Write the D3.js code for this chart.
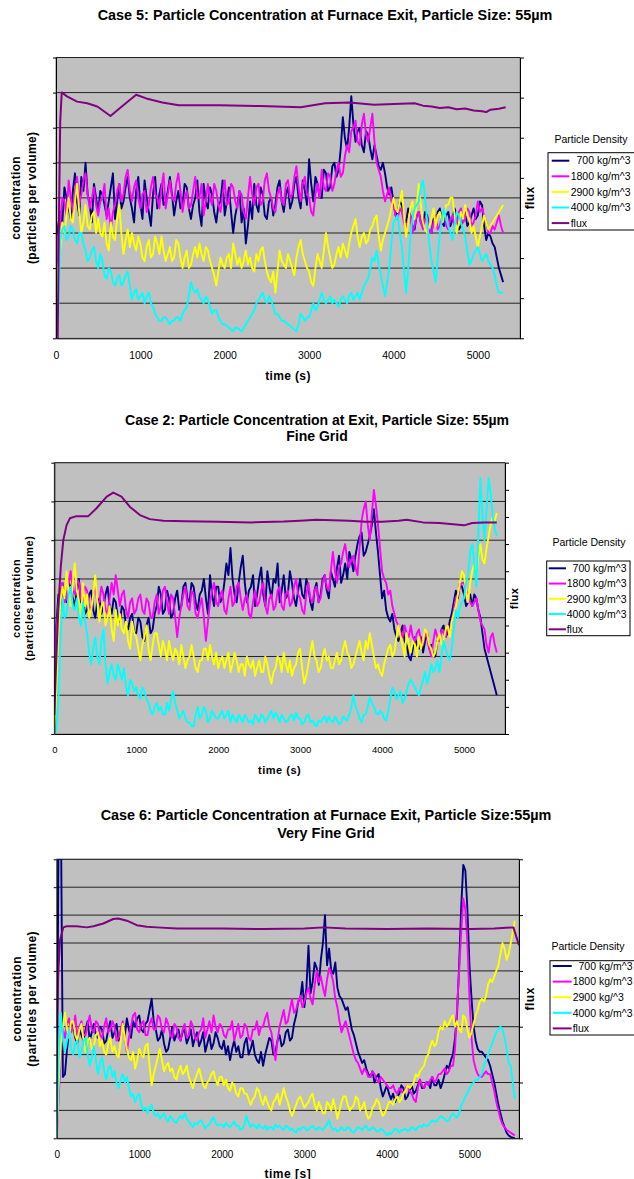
<!DOCTYPE html>
<html>
<head>
<meta charset="utf-8">
<script src="https://cdn.jsdelivr.net/npm/d3@7"></script>
<style>
  body { margin: 0; background: #fff; }
  svg { display: block; font-family: "Liberation Sans", Arial, sans-serif; }
</style>
</head>
<body>
<svg id="page" width="634" height="1179"></svg>
<script>
//sample spacing of the particle series (seconds)
const STEP = 25;

const LEGEND_NAMES = ['\u2007700 kg/m^3', '1800 kg/m^3', '2900 kg/m^3', '4000 kg/m^3', 'flux'];
const LEGEND_NAMES_CASE6 = ['\u2007700 kg/m^3', '1800 kg/m^3', '2900 kg/^3', '4000 kg/m^3', 'flux'];
const X_TICKS = [0, 1000, 2000, 3000, 4000, 5000];

//---------------- Case 5 (samples every STEP s from 0, one row = 500 s) ----------------
const case5_700 = [0,3.2,3.6,3.3,4.3,4.0,3.7,3.4,4.2,4.7,3.9,3.5,4.6,4.2,5.0,4.1,3.8,3.3,4.4,4.0,
  3.6,4.2,4.1,3.8,3.5,3.9,4.3,4.7,3.4,3.9,4.4,3.7,3.9,4.3,4.6,4.0,3.7,3.3,4.2,4.6,
  3.8,3.4,4.5,4.0,3.6,3.2,4.1,4.6,3.7,4.1,4.4,3.8,3.9,4.2,4.6,4.1,3.5,3.9,4.2,3.7,
  3.8,4.4,4.3,3.7,3.4,3.8,4.0,4.5,3.6,3.2,4.4,3.9,3.7,4.3,4.1,3.6,3.3,3.8,3.9,4.5,
  3.5,3.9,4.3,3.6,3.0,3.5,3.8,4.2,3.3,3.7,2.7,3.2,3.9,3.4,4.4,3.8,3.6,4.3,4.1,3.5,
  3.4,3.9,4.0,3.5,3.8,4.3,4.5,3.9,3.6,4.1,4.3,3.7,3.9,4.4,4.6,4.0,3.7,4.5,4.2,3.8,
  5.1,4.4,3.9,4.6,4.4,4.0,4.0,4.8,4.7,4.2,4.3,4.9,5.0,4.6,4.8,5.4,6.3,5.7,5.4,6.0,
  6.9,6.1,5.6,5.9,6.0,5.5,5.3,5.9,5.8,5.4,5.1,5.5,5.2,4.9,4.8,5.0,4.7,4.3,4.1,4.3,
  3.9,3.5,3.6,3.9,3.8,3.4,3.3,3.7,3.5,3.2,3.1,3.5,3.6,3.3,3.2,3.6,3.5,3.1,3.0,3.4,
  3.3,3.6,3.7,3.3,3.2,3.5,3.6,3.2,3.4,3.7,3.5,3.1,3.2,3.4,3.6,3.2,3.3,3.5,3.7,3.4,
  3.5,3.9,3.8,3.2,2.8,3.0,2.9,2.7,2.6,2.3,2.0,1.8,1.6];
const case5_1800 = [0,2.9,3.3,4.0,3.9,3.5,4.5,4.0,3.6,4.2,4.6,3.8,4.1,4.5,4.7,4.1,3.7,4.0,4.3,3.8,
  3.5,3.9,4.0,4.4,3.4,3.7,3.1,3.6,3.8,4.2,4.4,3.9,4.1,4.6,4.8,4.2,3.9,4.3,4.5,4.0,
  3.7,4.1,4.2,3.6,3.8,4.3,4.6,4.1,4.0,3.7,4.3,4.7,3.7,4.1,4.5,4.0,3.9,4.4,4.7,4.2,
  3.6,4.0,4.2,3.7,3.8,4.2,4.6,4.0,4.0,4.4,3.5,3.9,4.4,4.0,3.8,4.4,4.2,3.8,3.6,4.1,
  4.5,3.8,3.9,4.4,4.3,3.9,3.7,4.2,4.1,3.6,3.4,4.0,4.6,4.1,3.8,4.3,4.4,3.8,3.9,4.5,
  4.7,4.2,4.0,3.7,3.6,4.1,4.3,3.9,3.8,4.4,4.5,4.0,4.1,4.6,4.9,4.3,3.9,4.4,4.6,4.1,
  4.0,3.6,3.5,4.1,4.4,4.0,4.8,4.3,4.2,4.7,4.6,4.2,4.4,4.8,5.0,4.6,4.7,5.2,5.5,5.3,
  5.9,6.0,6.2,5.6,5.5,6.1,6.4,5.8,5.6,6.0,6.4,5.6,5.0,4.8,4.6,4.2,3.9,4.1,4.3,3.9,
  3.8,3.5,3.4,3.7,3.6,3.3,3.1,3.4,3.5,3.0,3.2,3.5,3.6,3.3,3.1,3.4,3.4,3.1,3.0,3.3,
  3.5,3.1,3.2,3.5,3.6,3.2,3.1,3.4,3.5,3.2,3.3,3.6,3.7,3.3,3.4,3.7,3.6,3.2,3.3,3.5,
  3.9,3.6,3.7,3.5,3.3,3.0,3.0,3.2,3.1,3.3,3.5,3.2,3.0];
const case5_2900 = [0,2.0,2.5,3.3,3.0,3.5,4.0,3.4,3.3,3.9,4.4,3.6,3.0,3.3,3.8,3.2,3.1,3.5,3.6,3.0,
  3.4,3.0,2.9,3.3,2.7,2.5,3.3,2.9,2.8,3.4,3.8,3.0,2.4,2.8,3.1,2.6,3.0,2.7,2.5,2.9,
  2.7,2.3,2.2,2.6,2.8,2.3,2.4,2.9,2.7,2.4,2.9,2.5,2.2,2.4,2.6,2.2,2.3,2.8,2.7,2.3,
  2.0,2.3,2.5,2.0,2.1,2.4,2.6,2.3,2.7,2.4,2.2,2.6,2.5,2.2,2.0,1.8,1.5,1.9,2.3,2.1,
  2.0,2.3,2.4,2.0,2.7,2.4,2.1,2.3,2.0,2.2,2.5,2.1,2.3,2.0,1.9,2.4,2.2,2.5,2.6,2.2,
  1.9,1.7,1.6,1.9,1.3,1.9,2.5,2.2,2.1,2.0,2.4,2.2,2.0,1.8,2.3,2.6,2.8,2.4,2.2,2.0,
  1.9,1.6,1.5,2.0,2.4,2.2,2.0,2.5,3.0,2.6,2.3,2.0,2.1,2.4,2.6,2.3,2.7,2.5,2.3,2.7,
  3.0,3.2,3.4,2.9,2.6,2.9,3.0,2.7,2.8,3.1,3.2,3.4,3.5,2.9,2.5,2.8,3.0,3.2,3.4,3.7,
  4.0,3.7,3.6,3.9,4.2,3.5,2.9,3.3,3.7,3.9,3.4,3.8,4.4,3.8,3.3,3.1,3.0,3.2,3.4,3.7,
  3.2,3.5,3.6,3.3,3.5,3.8,3.8,4.0,4.0,3.5,3.0,3.3,3.6,3.4,3.8,3.5,3.4,3.0,3.2,2.9,
  2.6,2.9,3.2,3.5,3.3,3.1,3.2,3.3,3.4,3.5,3.6,3.7,3.8];
const case5_4000 = [0,0.5,2.8,3.1,3.2,2.8,2.9,3.2,3.1,2.8,2.7,3.0,3.0,2.7,2.5,2.2,2.3,2.5,2.6,2.2,
  2.0,2.4,2.2,1.8,1.7,2.0,1.9,1.6,1.5,1.7,1.8,1.5,1.6,1.8,1.9,1.5,1.1,1.3,1.4,1.1,
  1.2,1.3,1.0,1.2,1.3,1.0,0.9,0.7,0.6,0.5,0.5,0.6,0.6,0.5,0.4,0.5,0.5,0.6,0.6,0.5,
  0.7,0.8,0.9,1.2,1.6,1.4,1.3,1.4,1.2,1.1,1.0,1.2,1.1,0.9,0.7,0.8,0.8,0.6,0.5,0.4,
  0.4,0.35,0.3,0.25,0.2,0.3,0.3,0.25,0.2,0.3,0.4,0.5,0.6,0.7,0.8,1.0,1.1,1.2,1.3,1.1,
  1.0,1.2,1.1,0.9,0.7,0.7,0.6,0.5,0.5,0.45,0.4,0.35,0.3,0.25,0.2,0.4,0.7,0.6,0.5,0.6,
  0.6,0.8,1.0,0.8,0.9,1.1,1.3,1.1,1.0,1.1,1.2,1.0,1.1,1.0,0.9,1.1,1.2,1.1,1.0,1.2,
  1.3,1.1,1.2,1.3,1.1,1.3,1.5,1.6,1.7,2.0,2.3,2.2,2.5,2.1,1.8,1.5,1.2,1.6,2.0,2.7,
  3.3,3.4,3.5,3.0,2.6,1.9,1.3,2.0,2.9,3.4,3.7,3.8,3.9,4.3,4.5,4.0,3.3,2.7,2.2,1.9,
  1.6,2.3,3.0,3.4,3.7,3.4,3.2,3.0,2.8,3.2,3.6,3.5,3.3,3.1,2.9,2.5,2.1,2.2,2.4,2.5,
  2.6,2.4,2.2,2.3,2.4,2.2,2.1,2.0,1.8,1.5,1.3,1.3,1.3];
const case5_fluxTime  = [20,35,50,68,130,250,370,490,646,780,950,1070,1260,1455,1940,2420,2900,3190,3480,3770,4250,4350,4450,4550,4650,4750,4850,4950,5050,5100,5150,5250,5330];
const case5_fluxValue = [0,3.0,5.4,6.13,6.03,5.90,5.86,5.78,5.54,5.78,6.07,5.98,5.88,5.81,5.81,5.79,5.76,5.86,5.88,5.82,5.86,5.80,5.78,5.74,5.76,5.71,5.73,5.68,5.66,5.64,5.70,5.72,5.76];

//---------------- Case 2 ----------------
const case2_700 = [0,2.8,3.6,3.2,3.9,3.6,3.4,3.9,3.8,3.5,3.3,3.7,4.0,3.4,3.5,3.1,3.2,3.6,3.7,3.2,
  3.0,3.4,3.5,3.1,3.3,3.6,3.8,3.3,3.1,3.5,3.4,3.0,2.9,3.3,3.2,2.8,2.7,3.0,3.1,2.6,
  2.6,3.0,2.9,2.5,2.4,2.8,3.0,2.6,2.7,3.1,3.3,3.8,3.6,3.1,3.2,3.7,3.5,3.0,3.1,3.5,
  3.7,3.2,3.3,3.8,3.9,3.5,3.4,3.9,3.8,3.4,3.2,3.6,3.7,4.0,3.5,3.1,4.1,3.6,3.3,3.8,
  3.8,3.4,3.5,3.9,4.4,4.1,4.8,4.0,3.6,3.4,3.9,4.3,4.6,3.9,3.4,3.7,3.8,4.1,3.3,3.6,
  4.0,4.3,3.6,3.3,4.2,3.8,3.5,4.0,3.9,4.4,3.4,3.7,4.1,3.5,3.6,4.2,3.9,3.5,3.3,3.7,
  4.0,3.6,3.5,4.0,3.8,3.4,3.2,3.7,3.9,3.4,3.6,4.0,4.1,3.7,3.5,4.2,4.0,3.8,4.3,4.6,
  3.9,4.1,4.4,4.0,4.7,4.5,4.2,4.6,4.9,5.1,5.2,4.6,4.7,4.9,5.1,5.4,5.8,5.2,4.7,4.1,
  3.5,3.7,3.2,3.0,2.9,3.1,2.7,2.5,2.4,2.6,2.8,2.4,2.3,2.0,1.9,2.2,2.5,2.3,2.2,2.5,
  2.1,2.4,2.6,2.2,2.3,2.0,2.0,2.4,2.5,2.7,2.8,2.5,2.6,2.9,3.1,3.4,3.7,3.5,3.9,3.8,
  3.6,3.3,3.4,3.6,3.3,3.6,3.5,3.2,3.0,2.6,2.2,2.0,1.8,1.6,1.4,1.2,1.0];
const case2_1800 = [0,2.6,3.3,3.7,3.9,3.4,3.5,3.9,4.2,3.7,3.6,4.0,3.9,3.5,3.3,3.8,3.7,3.3,3.2,3.6,
  3.8,3.4,3.4,3.8,3.6,3.2,3.1,3.5,3.9,3.6,4.1,3.7,3.3,3.6,3.7,3.2,3.0,3.4,3.5,3.1,
  3.2,3.5,3.6,3.2,3.1,3.5,3.4,3.0,3.0,3.4,3.6,3.1,3.3,3.7,3.8,3.4,3.1,3.6,3.5,3.0,
  2.5,3.0,3.3,3.6,3.8,3.3,3.2,3.7,3.6,3.1,3.0,3.3,3.5,3.0,2.4,2.9,3.4,3.7,3.9,3.4,
  3.3,3.6,3.7,3.2,3.1,3.5,3.8,3.3,3.4,3.8,3.9,3.5,3.2,3.5,3.6,3.1,3.0,3.4,3.7,3.3,
  3.4,3.7,3.9,3.3,3.1,3.5,3.6,3.2,3.3,3.7,3.8,3.3,3.2,3.6,3.7,3.3,3.4,3.8,4.0,3.6,
  3.5,3.2,3.1,3.6,3.9,3.5,3.4,3.7,3.8,3.4,3.5,3.9,4.1,3.8,3.7,4.2,4.7,4.2,3.9,4.3,
  4.4,4.7,4.9,4.5,4.3,4.5,4.6,4.3,4.1,4.8,5.5,5.8,6.0,5.4,5.0,5.7,6.3,5.9,5.4,4.8,
  4.2,4.0,3.9,3.6,3.7,3.3,3.1,2.9,2.8,2.6,2.5,2.8,2.6,2.5,2.8,2.5,2.4,2.6,2.7,2.4,
  2.3,2.6,2.5,2.2,2.0,2.4,2.7,2.5,2.4,2.7,2.6,2.5,2.8,2.6,2.9,3.2,3.5,3.6,3.8,3.9,
  3.9,3.7,3.6,3.4,3.3,3.4,3.5,3.2,2.9,2.8,2.7,2.3,2.1,2.5,2.6,2.3,2.1];
const case2_2900 = [0,1.2,2.6,3.4,3.8,3.5,4.2,3.6,3.3,3.9,4.4,3.7,3.4,3.0,3.9,3.3,3.6,3.0,3.2,3.6,
  4.1,3.4,2.9,3.3,3.4,2.8,3.0,3.3,2.7,2.4,3.2,2.8,3.1,2.7,2.6,2.9,2.4,2.2,2.9,2.6,
  2.5,2.2,1.9,2.3,2.5,2.8,2.2,1.9,2.3,2.6,2.6,2.3,2.0,2.4,2.2,1.9,2.4,2.1,1.9,2.2,
  2.1,1.8,2.3,2.0,1.7,1.9,2.0,2.3,2.0,1.7,1.6,1.9,1.9,2.2,2.2,1.9,2.3,2.0,1.8,2.1,
  1.7,1.9,2.0,1.7,1.9,2.1,1.6,1.8,2.1,1.9,1.6,1.8,1.8,1.5,2.0,1.8,1.7,1.9,1.5,1.7,
  1.9,1.6,1.6,2.0,1.8,1.5,1.3,1.6,1.7,2.0,1.9,1.6,2.1,1.8,1.6,1.9,1.5,1.7,1.8,2.1,
  2.2,1.7,1.3,1.5,1.8,2.1,2.4,2.0,1.9,1.6,1.7,2.0,2.2,1.9,2.0,1.7,1.7,1.9,2.1,1.8,
  1.9,2.2,2.4,2.1,2.0,1.7,1.8,2.0,2.2,2.4,2.1,1.9,2.4,2.2,2.6,2.3,2.0,1.7,1.8,1.6,
  1.5,1.8,2.0,2.2,2.3,2.0,2.1,2.5,2.8,2.5,2.3,2.0,2.6,2.3,2.1,2.4,2.3,2.0,2.5,2.2,
  2.4,2.7,2.6,2.3,2.2,2.0,2.1,2.4,2.6,2.3,2.4,2.7,2.8,2.5,2.9,3.1,3.3,3.6,3.9,4.2,
  4.1,3.7,3.4,3.9,4.2,4.4,4.0,4.6,4.9,4.5,4.4,4.8,5.1,5.4,5.6,5.5,5.7];
const case2_4000 = [0,0.1,0.9,2.4,3.5,3.0,3.1,3.6,3.8,3.3,3.2,3.5,3.0,2.8,3.4,2.9,2.6,2.1,1.8,2.2,
  2.5,2.0,1.8,2.4,2.7,1.8,1.3,1.6,1.8,1.5,1.4,1.8,1.6,1.4,1.7,1.2,1.0,1.4,1.3,1.1,
  1.2,1.0,0.9,1.2,1.1,0.9,0.8,0.6,0.5,0.7,0.8,0.6,0.7,0.5,0.5,0.8,0.6,0.9,1.1,0.8,
  0.6,0.4,0.5,0.6,0.4,0.3,0.3,0.2,0.2,0.5,0.7,0.4,0.5,0.7,0.6,0.3,0.4,0.6,0.5,0.4,
  0.4,0.5,0.6,0.4,0.5,0.6,0.3,0.5,0.4,0.3,0.5,0.4,0.3,0.5,0.4,0.3,0.35,0.25,0.5,0.4,
  0.3,0.5,0.45,0.3,0.4,0.5,0.6,0.4,0.55,0.45,0.3,0.5,0.4,0.3,0.35,0.45,0.5,0.35,0.55,0.4,
  0.4,0.25,0.3,0.45,0.5,0.3,0.35,0.25,0.2,0.35,0.3,0.4,0.45,0.3,0.45,0.35,0.3,0.45,0.35,0.25,
  0.3,0.45,0.4,0.35,0.5,0.7,1.0,0.7,0.6,0.4,0.3,0.5,0.5,0.7,0.95,0.8,0.7,0.55,0.5,0.6,
  0.55,0.4,0.35,0.6,0.9,1.2,1.1,0.9,1.0,1.1,0.8,0.9,1.1,1.3,1.4,1.3,1.2,1.1,1.0,1.2,
  1.4,1.6,1.3,1.5,1.8,1.6,1.7,1.9,1.6,2.0,2.4,2.2,2.0,1.9,2.2,2.7,3.2,3.0,3.3,3.4,
  3.5,3.9,4.1,4.7,4.9,4.4,3.8,5.2,6.6,5.6,5.0,5.8,6.6,6.2,5.6,5.3,5.1];
const case2_fluxTime  = [0,25,50,80,110,150,190,270,415,515,640,720,820,920,1045,1165,1330,1600,2000,2400,2800,3000,3200,3400,3600,3800,4000,4200,4300,4500,4700,4900,5000,5100,5250,5400];
const case2_fluxValue = [0.7,2.8,4.7,6.2,7.15,7.7,7.95,8.03,8.03,8.32,8.75,8.9,8.75,8.38,8.07,7.92,7.86,7.84,7.82,7.8,7.83,7.86,7.9,7.88,7.86,7.82,7.82,7.86,7.9,7.8,7.78,7.72,7.69,7.78,7.8,7.8];

//---------------- Case 6 ----------------
const case6_700 = [0,12,12,2.2,2.3,3.2,3.8,4.1,4.0,3.6,3.4,3.9,3.7,3.5,3.9,4.2,3.5,3.8,4.1,3.7,
  3.6,4.0,3.9,3.4,3.5,3.9,4.2,3.6,3.8,4.1,3.5,3.8,4.1,3.7,4.3,3.9,3.6,4.2,4.0,4.3,
  4.4,3.9,3.8,4.1,4.2,4.6,5.0,4.2,3.9,3.5,3.6,3.9,3.4,3.1,3.2,3.6,4.0,3.5,3.7,3.9,
  3.5,3.8,3.9,3.4,3.6,3.9,3.3,3.6,3.8,3.3,3.5,3.8,3.1,3.4,3.7,3.2,3.4,3.8,3.6,3.3,
  3.2,3.5,3.0,3.3,2.8,3.2,3.5,3.1,3.3,2.9,2.9,3.4,3.6,3.0,3.2,3.5,3.0,2.8,2.7,3.1,
  2.6,3.0,3.3,3.6,3.5,3.0,3.1,3.5,3.7,3.3,3.4,3.8,3.9,3.5,3.6,4.1,4.4,4.9,5.0,5.6,
  4.7,5.4,6.9,5.2,5.6,6.3,6.1,5.5,6.4,7.0,8.0,6.2,6.8,6.0,5.9,6.3,5.4,5.1,5.0,4.8,
  4.6,4.7,4.3,3.9,3.7,3.4,3.1,2.9,2.7,2.8,2.5,2.3,2.2,2.4,2.0,2.2,2.3,1.8,1.5,1.7,
  1.9,1.6,1.4,1.6,1.3,1.5,1.6,1.9,1.8,1.4,1.5,1.7,1.9,1.6,1.7,1.9,2.1,1.8,1.8,2.0,
  2.0,1.8,2.2,1.9,1.9,2.1,1.8,2.0,2.3,2.6,2.5,2.8,3.0,3.6,4.5,6.2,8.3,9.8,9.6,8.2,
  6.2,5.0,4.0,3.5,3.2,3.1,3.1,3.0,2.9,2.8,2.6,2.3,2.0,1.6,1.2,0.9,0.6,0.4,0.2,0.1,
  0.05,0.02,0.0];
const case6_1800 = [0,1.5,3.0,3.9,3.6,4.1,4.3,3.8,4.0,4.4,3.6,4.0,4.2,3.7,3.7,4.1,4.4,3.9,3.8,4.2,
  4.1,3.7,3.6,4.0,4.3,3.8,3.9,4.2,4.0,3.5,3.6,3.9,4.2,3.6,3.1,3.6,4.0,4.4,4.5,3.9,
  3.8,4.1,4.2,3.7,3.7,4.1,4.3,3.9,3.9,4.4,4.3,3.9,3.8,4.3,4.1,3.7,3.6,4.1,4.0,3.6,
  3.5,3.9,4.1,3.6,3.7,4.2,4.0,3.6,3.5,3.8,3.9,4.3,3.6,3.9,4.2,3.8,4.4,4.0,3.8,4.1,
  4.0,3.7,3.6,3.9,3.9,4.2,3.5,3.8,4.1,3.6,3.7,4.1,4.0,3.6,3.5,3.9,3.9,4.2,3.7,4.0,
  4.0,4.3,4.5,4.0,3.8,3.3,2.8,3.5,4.0,4.3,4.6,4.1,4.2,4.6,5.0,4.5,4.6,4.9,5.1,4.7,
  4.9,5.2,5.4,5.0,4.8,5.5,6.0,5.6,5.8,5.4,5.1,5.7,6.1,5.9,5.6,5.0,4.7,4.2,3.8,4.0,
  4.2,3.9,3.6,3.3,3.0,2.8,2.7,2.5,2.3,2.5,2.4,2.2,2.2,2.4,2.3,2.1,2.0,2.2,2.1,2.0,
  1.9,1.8,1.8,1.9,1.7,1.6,1.8,1.7,1.6,1.8,1.9,1.7,1.6,1.4,1.3,1.8,2.1,1.9,1.8,2.0,
  1.9,2.1,2.2,2.0,2.1,2.3,2.3,2.4,2.5,2.3,2.4,2.6,2.6,3.2,4.7,6.0,7.4,8.6,8.2,7.0,
  5.0,3.6,2.8,2.5,2.3,2.2,2.2,2.3,2.4,2.3,2.3,2.0,1.7,1.3,1.0,0.7,0.5,0.4,0.3,0.25,
  0.2,0.15,0.1];
const case6_2900 = [0,2.0,3.4,4.0,4.5,3.9,3.6,4.2,4.2,3.7,3.5,3.9,4.1,3.5,3.1,3.5,3.6,3.2,3.3,3.7,
  3.8,3.3,3.5,3.1,3.0,3.4,3.6,3.1,3.3,3.0,2.9,3.5,4.1,3.6,3.2,2.9,2.8,3.1,2.5,2.8,
  3.2,3.0,2.9,3.3,3.4,2.6,1.9,2.3,2.6,2.9,3.2,2.8,2.4,2.6,2.7,2.4,2.5,2.2,2.1,2.4,
  2.6,2.3,2.4,2.6,2.2,2.0,1.8,2.1,2.3,2.5,2.2,1.9,1.8,2.0,2.1,2.3,2.4,2.1,1.9,2.2,
  2.2,1.9,2.1,1.8,1.7,2.0,1.9,1.6,1.5,1.8,1.8,1.6,1.6,1.4,1.2,1.4,1.5,1.8,1.7,1.4,
  1.2,1.5,1.3,1.1,1.0,1.3,1.4,1.6,1.2,1.5,1.8,1.5,1.3,1.0,0.8,1.0,1.2,1.4,1.5,1.3,
  1.1,1.2,1.3,1.5,1.6,1.2,1.0,1.3,1.1,0.9,0.9,1.3,1.2,1.0,1.4,1.1,0.7,1.0,1.3,1.5,
  1.5,1.2,1.0,1.1,1.2,1.5,1.4,1.0,1.1,1.3,0.9,0.7,0.8,1.1,1.2,1.4,1.3,1.0,0.8,0.9,
  1.1,1.3,1.3,1.2,1.4,1.5,1.3,1.4,1.6,1.7,1.9,1.8,1.9,2.0,2.3,2.2,2.4,2.5,2.6,2.9,
  3.0,3.3,3.5,3.3,3.4,3.8,4.0,3.9,4.2,4.0,4.1,4.3,4.4,4.0,4.2,3.9,3.8,4.4,4.3,3.9,
  3.6,3.8,4.1,4.4,4.6,4.9,5.0,4.9,5.1,5.5,5.7,5.6,5.8,6.0,6.2,6.6,7.0,6.8,6.4,6.6,
  7.0,7.4,7.8];
const case6_4000 = [0,3.0,4.5,3.6,3.1,3.5,3.9,3.2,3.0,3.4,3.5,2.9,3.1,3.5,3.6,3.0,2.6,2.9,3.3,2.8,
  2.3,2.7,2.9,2.4,2.1,2.5,2.6,2.2,2.4,2.0,1.8,2.1,2.3,2.0,2.2,1.8,1.5,1.6,1.3,1.5,
  1.6,1.2,1.0,1.1,0.9,1.1,1.2,0.9,0.8,0.9,0.7,0.8,0.9,0.7,0.6,0.8,0.7,0.6,0.55,0.7,
  0.8,0.7,0.9,0.7,0.6,0.5,0.4,0.55,0.5,0.6,0.65,0.5,0.35,0.45,0.5,0.65,0.75,0.55,0.45,0.5,
  0.5,0.4,0.55,0.45,0.4,0.5,0.6,0.45,0.45,0.3,0.35,0.5,0.8,0.55,0.4,0.5,0.45,0.35,0.5,0.4,
  0.35,0.45,0.3,0.4,0.4,0.3,0.5,0.4,0.45,0.35,0.3,0.45,0.4,0.3,0.35,0.25,0.2,0.35,0.3,0.4,
  0.4,0.3,0.3,0.4,0.45,0.35,0.3,0.4,0.35,0.3,0.4,0.5,0.65,0.4,0.3,0.35,0.25,0.3,0.4,0.3,
  0.3,0.4,0.35,0.25,0.2,0.3,0.4,0.35,0.3,0.4,0.45,0.3,0.3,0.4,0.35,0.25,0.25,0.35,0.3,0.2,
  0.1,0.2,0.15,0.25,0.35,0.3,0.2,0.3,0.3,0.35,0.25,0.3,0.4,0.35,0.3,0.4,0.45,0.4,0.5,0.45,
  0.45,0.55,0.65,0.6,0.6,0.7,0.8,0.75,0.7,0.6,0.65,0.8,0.9,0.8,0.75,0.9,1.2,1.3,1.5,1.6,
  1.8,1.9,2.0,2.1,2.1,2.2,2.3,2.6,2.8,3.0,3.2,3.4,3.6,3.8,3.9,4.0,3.9,3.6,3.2,2.7,
  2.6,2.0,1.4];
const case6_fluxTime  = [0,20,40,80,120,240,365,445,565,685,745,850,970,1090,1210,1455,2000,2500,3000,3234,3500,4000,4500,5000,5300,5532,5600];
const case6_fluxValue = [2.0,3.0,3.55,3.78,3.8,3.8,3.78,3.8,3.85,3.93,3.94,3.9,3.82,3.79,3.78,3.76,3.76,3.75,3.76,3.78,3.76,3.75,3.76,3.75,3.76,3.78,3.46];

//colors, same for every chart
const SERIES_COLORS = ['#000080', '#ff00ff', '#ffff00', '#00ffff'];
const FLUX_COLOR = '#800080';

//layout of the three charts
const CHARTS = [
  {
    id: 'case5', title: ['Case 5: Particle Concentration at Furnace Exit, Particle Size: 55µm'],
    titleX: 325, titleY: [20], titleSize: 14.4,
    plot: {left: 56, right: 520, top: 57.5, bottom: 338.3},
    xMax: 5500, yMax: 8, y2Max: 7,
    series: [case5_700, case5_1800, case5_2900, case5_4000],
    fluxTime: case5_fluxTime, fluxValue: case5_fluxValue,
    tickSize: 10.5, tickPad: 13, axisSize: 12, spacing: 0.35,
    xTitle: 'time (s)', xTitleY: 379.5, yTitleX: [20, 36], fluxX: 534,
    legend: {names: LEGEND_NAMES, titleX: 591, titleY: 143, box: [548, 152.7, 92, 77.3], row0: 160.7, rowStep: 15.6, line: [3.7, 21.3], textX: 22.7}
  },
  {
    id: 'case2', title: ['Case 2: Particle Concentration at Exit, Particle Size: 55µm', 'Fine Grid'],
    titleX: 317, titleY: [425, 441], titleSize: 14,
    plot: {left: 54.3, right: 505, top: 462.7, bottom: 734},
    xMax: 5500, yMax: 7, y2Max: 10,
    series: [case2_700, case2_1800, case2_2900, case2_4000],
    fluxTime: case2_fluxTime, fluxValue: case2_fluxValue,
    tickSize: 9.5, tickPad: 12, axisSize: 11, spacing: 0.5,
    xTitle: 'time (s)', xTitleY: 773.5, yTitleX: [20, 33], fluxX: 518,
    legend: {names: LEGEND_NAMES, titleX: 589, titleY: 545.7, box: [546.7, 561, 83.3, 74.7], row0: 568.3, rowStep: 15.25, line: [2, 19.3], textX: 20}
  },
  {
    id: 'case6', title: ['Case 6: Particle Concentration at Furnace Exit, Particle Size:55µm', 'Very Fine Grid'],
    titleX: 326, titleY: [820, 837.7], titleSize: 14.4,
    plot: {left: 56.7, right: 519, top: 859.3, bottom: 1138.3},
    xMax: 5600, yMax: 10, y2Max: 5,
    series: [case6_700, case6_1800, case6_2900, case6_4000],
    fluxTime: case6_fluxTime, fluxValue: case6_fluxValue,
    tickSize: 10, tickPad: 12.4, axisSize: 12, spacing: 0.5,
    xTitle: 'time [s]', xTitleY: 1177.5, yTitleX: [20.7, 35.7], fluxX: 534,
    legend: {names: LEGEND_NAMES_CASE6, titleX: 588, titleY: 950.4, box: [550, 960.7, 92, 74.3], row0: 966, rowStep: 15.6, line: [2.7, 21.7], textX: 22.7}
  }
];

function drawChart(c) {
  const svg = d3.select('#page');
  const g = svg.append('g').attr('id', c.id);
  const p = c.plot;

  const x = d3.scaleLinear().domain([0, c.xMax]).range([p.left, p.right]);
  const y = d3.scaleLinear().domain([0, c.yMax]).range([p.bottom, p.top]);
  const y2 = d3.scaleLinear().domain([0, c.y2Max]).range([p.bottom, p.top]);

  //title
  const title = g.append('text')
    .attr('text-anchor', 'middle')
    .attr('font-weight', 'bold')
    .attr('font-size', c.titleSize);
  c.title.forEach((t, i) => {
    title.append('tspan').attr('x', c.titleX).attr('y', c.titleY[i]).text(t);
  });

  //plot area
  g.append('rect')
    .attr('x', p.left).attr('y', p.top)
    .attr('width', p.right - p.left).attr('height', p.bottom - p.top)
    .attr('fill', '#c0c0c0')
    .attr('stroke', '#808080');

  g.append('clipPath').attr('id', c.id + '-clip')
    .append('rect')
    .attr('x', p.left).attr('y', p.top)
    .attr('width', p.right - p.left).attr('height', p.bottom - p.top);

  //horizontal gridlines on the primary axis
  g.append('g').selectAll('line')
    .data(y.ticks(c.yMax).filter(v => v > 0))
    .join('line')
    .attr('x1', p.left).attr('x2', p.right)
    .attr('y1', d => y(d)).attr('y2', d => y(d))
    .attr('stroke', '#222')
    .attr('stroke-width', 1);

  //series
  const lines = g.append('g').attr('clip-path', 'url(#' + c.id + '-clip)');
  const line = d3.line().x((d, i) => x(i * STEP)).y(d => y(d));
  c.series.forEach((vals, k) => {
    lines.append('path')
      .datum(vals)
      .attr('d', line)
      .attr('fill', 'none')
      .attr('stroke', SERIES_COLORS[k])
      .attr('stroke-width', 1.9)
      .attr('stroke-linejoin', 'round');
  });
  const fluxLine = d3.line().x(d => x(d[0])).y(d => y2(d[1]));
  lines.append('path')
    .datum(d3.zip(c.fluxTime, c.fluxValue))
    .attr('d', fluxLine)
    .attr('fill', 'none')
    .attr('stroke', FLUX_COLOR)
    .attr('stroke-width', 2)
    .attr('stroke-linejoin', 'round');

  //axes, no labels on the two vertical ones
  const left = g.append('g')
    .attr('transform', 'translate(' + p.left + ',0)')
    .call(d3.axisLeft(y).tickValues(d3.range(0, c.yMax + 1)).tickSize(3).tickSizeOuter(0).tickFormat(''));
  const right = g.append('g')
    .attr('transform', 'translate(' + p.right + ',0)')
    .call(d3.axisRight(y2).tickValues(d3.range(0, c.y2Max + 1)).tickSize(4).tickSizeOuter(0).tickFormat(''));
  const bottom = g.append('g')
    .attr('transform', 'translate(0,' + p.bottom + ')')
    .call(d3.axisBottom(x).tickValues(X_TICKS).tickSize(0).tickPadding(c.tickPad).tickFormat(d3.format('d')));
  [left, right, bottom].forEach(a => {
    a.selectAll('path, line').attr('stroke', '#000');
  });
  bottom.selectAll('text')
    .attr('font-family', '"Liberation Sans", Arial, sans-serif')
    .attr('font-size', c.tickSize)
    .attr('fill', '#000');

  //axis titles
  g.append('text')
    .attr('x', (p.left + p.right) / 2).attr('y', c.xTitleY)
    .attr('text-anchor', 'middle')
    .attr('font-weight', 'bold').attr('font-size', c.axisSize)
    .attr('letter-spacing', c.spacing)
    .text(c.xTitle);

  const midY = (p.top + p.bottom) / 2;
  ['concentration', '(particles per volume)'].forEach((t, i) => {
    g.append('text')
      .attr('transform', 'translate(' + c.yTitleX[i] + ',' + midY + ') rotate(-90)')
      .attr('text-anchor', 'middle')
      .attr('font-weight', 'bold').attr('font-size', c.axisSize)
      .attr('letter-spacing', c.spacing)
      .text(t);
  });
  g.append('text')
    .attr('transform', 'translate(' + c.fluxX + ',' + midY + ') rotate(-90)')
    .attr('text-anchor', 'middle')
    .attr('font-weight', 'bold').attr('font-size', c.axisSize)
    .attr('letter-spacing', c.spacing)
    .text('flux');

  //legend
  const L = c.legend;
  const lg = g.append('g');
  lg.append('text')
    .attr('x', L.titleX).attr('y', L.titleY)
    .attr('text-anchor', 'middle')
    .attr('font-size', 10.5)
    .text('Particle Density');
  lg.append('rect')
    .attr('x', L.box[0]).attr('y', L.box[1])
    .attr('width', L.box[2]).attr('height', L.box[3])
    .attr('fill', '#fff').attr('stroke', '#000');
  const colors = SERIES_COLORS.concat([FLUX_COLOR]);
  const rows = lg.selectAll('g.row')
    .data(L.names)
    .join('g')
    .attr('class', 'row')
    .attr('transform', (d, i) => 'translate(' + L.box[0] + ',' + (L.row0 + i * L.rowStep) + ')');
  rows.append('line')
    .attr('x1', L.line[0]).attr('x2', L.line[1])
    .attr('stroke', (d, i) => colors[i])
    .attr('stroke-width', 2);
  rows.append('text')
    .attr('x', L.textX).attr('y', 3.7)
    .attr('font-size', 10.5)
    .text(d => d);
}

CHARTS.forEach(drawChart);
</script>
</body>
</html>
